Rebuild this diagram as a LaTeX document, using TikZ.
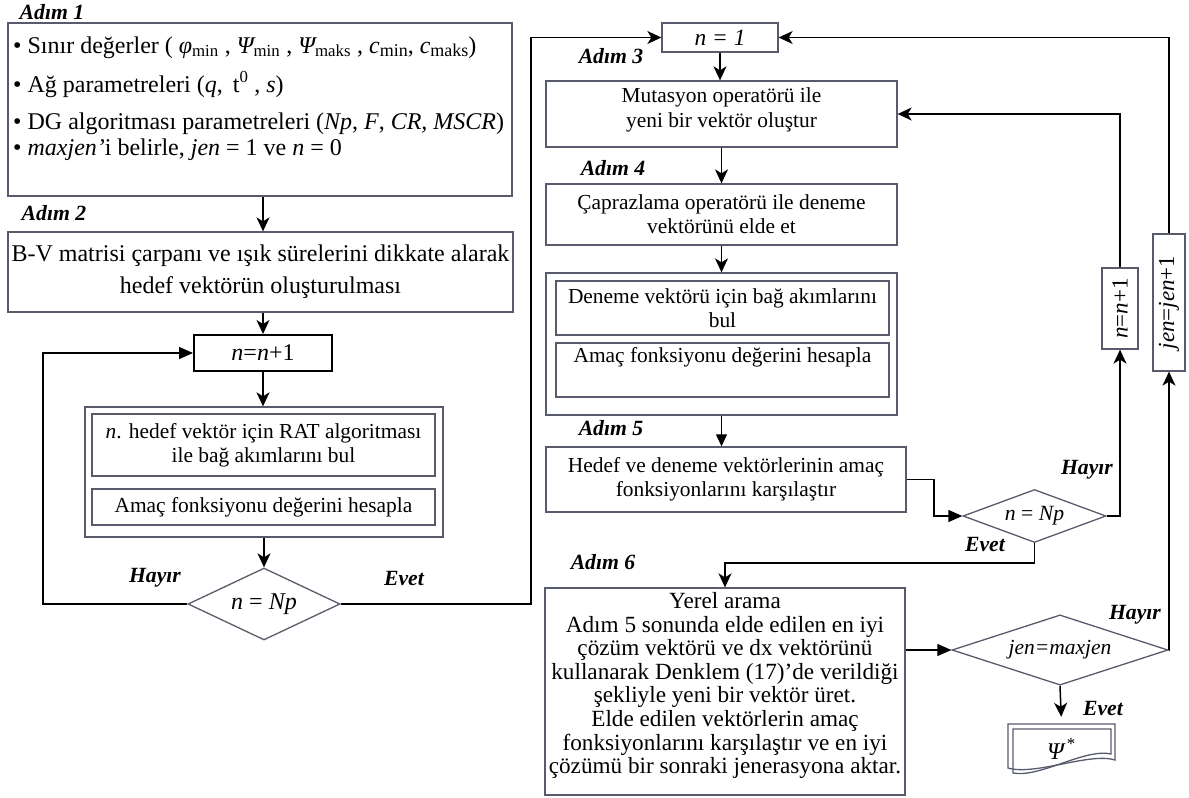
\documentclass[tikz,border=0pt]{standalone}
\usepackage{fontspec}
\setmainfont{Liberation Serif}
\usepackage{graphicx}
\usetikzlibrary{arrows.meta,shapes.geometric}
\definecolor{boxc}{HTML}{575B6B}
\newcommand{\myfs}{\fontsize{21.4}{24}\selectfont}
\newcommand{\bigfs}{\fontsize{24}{24}\selectfont}
\newcommand{\csub}[1]{\raisebox{-3pt}{\fontsize{18}{18}\selectfont #1}}
\tikzset{
  box/.style={draw=boxc, line width=1.3pt, inner sep=0pt, align=center, font=\myfs},
  txt/.style={inner sep=0pt, align=center, font=\myfs},
  dia/.style={diamond, draw=boxc, line width=1.3pt, inner sep=0pt, aspect=2, font=\myfs},
  lbl/.style={inner sep=0pt, font=\fontsize{21.7}{21.7}\selectfont\bfseries\itshape},
  arrS/.style={line width=1.5pt, -{Stealth[length=14pt,width=13pt,inset=4pt]}},
  arrT/.style={line width=1.3pt, -{Triangle[length=14pt,width=12pt]}},
  arrTs/.style={line width=1.2pt, -{Triangle[length=12pt,width=11pt]}},
}
\begin{document}
\begin{tikzpicture}[x=1pt,y=-1pt]
\useasboundingbox (0,0) rectangle (1189,798);
% ---------- left column ----------
\node[lbl] (a1) at (52,12) {Adım 1};
\node[box, minimum width=504, minimum height=173] (b1) at (260,109.5) {};
\node[txt, font=\bigfs, anchor=base west] (b1l1) at (13,53) {\textbullet\ Sınır değerler ( {\itshape φ}\textsubscript{min} , {\itshape Ψ}\textsubscript{min} , {\itshape Ψ}\textsubscript{maks} , {\itshape c}\csub{min}, {\itshape c}\csub{maks})};
\node[txt, font=\bigfs, anchor=base west] (b1l2) at (13,92) {\textbullet\ Ağ parametreleri ({\itshape q},\, t\textsuperscript{0} , {\itshape s})};
\node[txt, font=\bigfs, anchor=base west] (b1l3) at (13,129) {\textbullet\ DG algoritması parametreleri ({\itshape Np}, {\itshape F}, {\itshape CR, MSCR})};
\node[txt, font=\bigfs, anchor=base west] (b1l4) at (13,155) {\textbullet\ {\itshape maxjen’}i belirle, {\itshape jen} = 1 ve {\itshape n} = 0};

\node[lbl] (a2) at (54,213) {Adım 2};
\node[box, minimum width=505, minimum height=80, font=\fontsize{24}{32}\selectfont] (b2) at (260.5,272) {B-V matrisi çarpanı ve ışık sürelerini dikkate alarak\\hedef vektörün oluşturulması};
\node[box, draw=black, line width=2pt, minimum width=138, minimum height=36, font=\bigfs] (nn1) at (263,353) {{\itshape n}={\itshape n}+1};
\draw[arrS] (b1.south -| nn1.north) -- (b2.north -| nn1.north);
\draw[arrS] (b2.south -| nn1.north) -- (nn1.north);

\node[box, minimum width=358, minimum height=130] (g1) at (264,472) {};
\node[box, minimum width=343, minimum height=62] (i1) at (263.5,445) {{\itshape n}. hedef vektör için RAT algoritması\\ile bağ akımlarını bul};
\node[box, minimum width=343, minimum height=36] (i2) at (263.5,507) {Amaç fonksiyonu değerini hesapla};
\draw[arrS] (nn1.south) -- (g1.north -| nn1.south);

\node[dia, minimum width=152, minimum height=72, font=\bigfs] (d1) at (264,604) {{\itshape n} = {\itshape Np}};
\draw[arrS] (g1.south -| d1.north) -- (d1.north);
\node[lbl] (h1) at (155,578) {Hayır};
\node[lbl] (e1) at (404,578) {Evet};
\coordinate (cL) at (43,604);
\draw[arrT] (d1.west) -- (cL) |- (nn1.west);

% ---------- middle column ----------
\node[box, minimum width=116, minimum height=29, font=\fontsize{23.4}{24}\selectfont] (n1) at (720,37.5) {\itshape n = 1};
\coordinate (cE) at (531,604);
\draw[arrS] (d1.east) -- (cE) |- (n1.west);

\node[lbl] (a3) at (611,56) {Adım 3};
\node[box, minimum width=351, minimum height=66] (m) at (721.5,114) {};
\node[txt, font=\fontsize{21.4}{25}\selectfont] (mt) at (721.5,110) {Mutasyon operatörü ile\\yeni bir vektör oluştur};
\draw[arrS] (n1.south) -- (m.north -| n1.south);

\node[lbl] (a4) at (613,168) {Adım 4};
\node[box, minimum width=351, minimum height=61] (c) at (721.5,214.5) {Çaprazlama operatörü ile deneme\\vektörünü elde et};
\draw[arrS] (m.south) -- (c.north);

\node[box, minimum width=351, minimum height=142] (g2) at (721.5,344) {};
\node[box, minimum width=333, minimum height=54] (j1) at (722.5,308) {Deneme vektörü için bağ akımlarını\\bul};
\node[box, minimum width=333, minimum height=54] (j2) at (722.5,370) {};
\node[txt] (j2t) at (722.5,357) {Amaç fonksiyonu değerini hesapla};
\draw[arrS] (c.south) -- (g2.north -| c.south);

\node[lbl] (a5) at (611,428) {Adım 5};
\node[box, minimum width=360, minimum height=65] (h) at (726,479.5) {Hedef ve deneme vektörlerinin amaç\\fonksiyonlarını karşılaştır};
\draw[arrTs] (g2.south) -- (h.north -| g2.south);

% ---------- right part ----------
\node[dia, minimum width=143, minimum height=53, font=\fontsize{21.7}{22}\selectfont] (d2) at (1034.5,516) {{\itshape n} = {\itshape Np}};
\coordinate (k1) at (934,479.5);
\draw[arrT] (h.east) -- (k1) |- (d2.west);

\node[box, minimum width=36, minimum height=81, font=\fontsize{23}{24}\selectfont] (nn2) at (1120,308.5) {\rotatebox{90}{{\itshape n}={\itshape n}+1}};
\draw[arrS] (d2.east) -| (nn2.south);
\draw[arrS] (nn2.north) |- (m.east);
\node[lbl] (h2) at (1087,470) {Hayır};
\node[lbl] (e2) at (985,544) {Evet};

\node[lbl] (a6) at (603,562) {Adım 6};
\node[box, minimum width=360, minimum height=207] (A6) at (725,691.5) {};
\node[txt, font=\fontsize{23.2}{23.6}\selectfont] (A6t) at (725,685.5) {Yerel arama\\Adım 5 sonunda elde edilen en iyi\\çözüm vektörü ve dx vektörünü\\kullanarak Denklem (17)’de verildiği\\şekliyle yeni bir vektör üret.\\Elde edilen vektörlerin amaç\\fonksiyonlarını karşılaştır ve en iyi\\çözümü bir sonraki jenerasyona aktar.};
\coordinate (k2) at (1034.5,563);
\draw[arrS] (d2.south) -- (k2) -| (A6.north);

\node[dia, minimum width=216, minimum height=68, font=\fontsize{21.5}{22}\selectfont] (d3) at (1060,650) {\itshape jen=maxjen};
\draw[arrT] (d3.west -| A6.east) -- (d3.west);

\node[box, minimum width=32, minimum height=137, font=\fontsize{23}{24}\selectfont] (jj) at (1169,302.5) {\rotatebox{90}{{\itshape jen}={\itshape jen}+1}};
\draw[arrS] (d3.east) -| (jj.south);
\draw[arrS] (jj.north) |- (n1.east);
\node[lbl] (h3) at (1135,615) {Hayır};
\node[lbl] (e3) at (1103,708) {Evet};

% output document
\node[inner sep=0pt, minimum width=107, minimum height=50, font=\bigfs] (doc) at (1061.5,749) {{\itshape Ψ}\textsuperscript{\,*}};
\draw[arrS, shorten >=7pt] (d3.south) -- (doc.north);
\draw[boxc, line width=1.3pt] (1008,724) -- (1115,724) -- (1115,760) .. controls (1090,752) and (1035,776) .. (1008,768) -- cycle;
\draw[boxc, line width=1.3pt] (1013,729) -- (1111,729) -- (1111,754) .. controls (1085,748) and (1040,778) .. (1013,773) -- cycle;
\end{tikzpicture}
\end{document}
